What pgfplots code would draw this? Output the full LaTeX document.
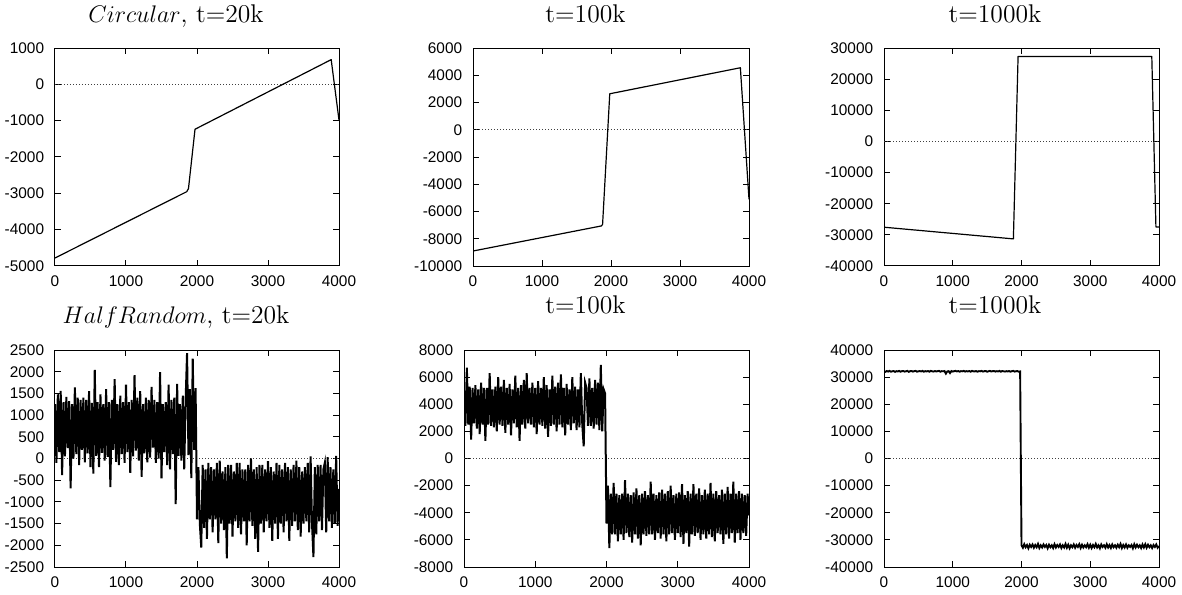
\documentclass[border=0pt]{standalone}
\usepackage{fontspec}
\usepackage{pgfplots}
\pgfplotsset{compat=1.18}
\newfontfamily\tickfont{Liberation Sans}

\pgfplotsset{
  panel/.style={
    scale only axis, anchor=north west,
    xmin=0, xmax=4000,
    xtick={0,1000,2000,3000,4000},
    xticklabels={0,1000,2000,3000,4000},
    scaled ticks=false,
    tick label style={font=\tickfont\fontsize{7.7}{8}\selectfont},
    yticklabel style={xshift=-1.9pt},
    xticklabel style={yshift=-1.5pt},
    major tick length=3pt,
    minor tick num=0,
    axis line style={line width=0.5pt},
    every tick/.style={line width=0.5pt, black},
  },
  zeroline/.style={black!75, line width=0.4pt, dash pattern=on 0.4pt off 1.1pt, forget plot},
  dataline/.style={black, line width=0.6pt, line join=round, mark=none},
  noise/.style={black, line width=1pt, line join=miter, mark=none},
}
\newcommand{\ttl}{\fontsize{12.8}{15}\selectfont}

\begin{document}
\begin{tikzpicture}
\useasboundingbox (0,0) rectangle (591pt,-297pt);

% ---- row 1: Circular ----
\begin{axis}[panel, at={(27.5pt,-24pt)}, width=142pt, height=109pt,
  ymin=-5000, ymax=1000,
  ytick={-5000,-4000,-3000,-2000,-1000,0,1000},
  yticklabels={-5000,-4000,-3000,-2000,-1000,0,1000}]
\addplot[zeroline] coordinates {(0,0) (4000,0)};
\addplot[dataline] coordinates {(0,-4780) (1855,-2955) (1880,-2870) (1972,-1236) (3890,680) (4000,-985)};
\end{axis}

\begin{axis}[panel, at={(236.5pt,-24pt)}, width=138pt, height=109pt,
  ymin=-10000, ymax=6000,
  ytick={-10000,-8000,-6000,-4000,-2000,0,2000,4000,6000},
  yticklabels={-10000,-8000,-6000,-4000,-2000,0,2000,4000,6000}]
\addplot[zeroline] coordinates {(0,0) (4000,0)};
\addplot[dataline] coordinates {(0,-8900) (1860,-7060) (1878,-6950) (1982,2640) (3875,4550) (4000,-5100)};
\end{axis}

\begin{axis}[panel, at={(442pt,-24pt)}, width=137.5pt, height=109pt,
  ymin=-40000, ymax=30000,
  ytick={-40000,-30000,-20000,-10000,0,10000,20000,30000},
  yticklabels={-40000,-30000,-20000,-10000,0,10000,20000,30000}]
\addplot[zeroline] coordinates {(0,0) (4000,0)};
\addplot[dataline] coordinates {(0,-27550) (1882,-31300) (1950,27300) (3895,27300) (3955,-27450) (4000,-27450)};
\end{axis}

% ---- row 2: HalfRandom ----
\begin{axis}[panel, at={(27.5pt,-175pt)}, width=142pt, height=108.5pt,
  ymin=-2500, ymax=2500,
  ytick={-2500,-2000,-1500,-1000,-500,0,500,1000,1500,2000,2500},
  yticklabels={-2500,-2000,-1500,-1000,-500,0,500,1000,1500,2000,2500}]
\addplot[zeroline] coordinates {(0,0) (4000,0)};
\addplot[noise] table[row sep=\\, header=false, x expr=\coordindex*20, y index=0] {
1250 \\ -100 \\ 1480 \\ 150 \\ 1560 \\ -380 \\ 1300 \\ 50 \\ 1420 \\ 240 \\
1320 \\ -690 \\ 1250 \\ 0 \\ 1640 \\ 100 \\ 1400 \\ -150 \\ 1350 \\ 200 \\
1400 \\ -90 \\ 1350 \\ 120 \\ 1550 \\ -200 \\ 1280 \\ -350 \\ 2040 \\ 60 \\
1300 \\ -200 \\ 1480 \\ 130 \\ 1250 \\ -50 \\ 1600 \\ 40 \\ 1300 \\ -660 \\
1350 \\ 200 \\ 1830 \\ -80 \\ 1250 \\ -150 \\ 1450 \\ 100 \\ 1300 \\ -100 \\
1700 \\ 150 \\ 1300 \\ -330 \\ 1350 \\ 50 \\ 1920 \\ 180 \\ 1400 \\ -50 \\
1550 \\ -420 \\ 1250 \\ 120 \\ 1400 \\ -90 \\ 1350 \\ 20 \\ 1650 \\ 250 \\
1350 \\ -100 \\ 1300 \\ 0 \\ 1990 \\ -460 \\ 1250 \\ 150 \\ 1300 \\ -150 \\
1700 \\ -250 \\ 1350 \\ 100 \\ 1400 \\ -1050 \\ 1720 \\ 60 \\ 1250 \\ -50 \\
1450 \\ -250 \\ 1350 \\ 2430 \\ 80 \\ 1600 \\ -450 \\ 2300 \\ 200 \\ 1620 \\
-1400 \\ -200 \\ -1500 \\ -2050 \\ -150 \\ -1600 \\ -250 \\ -1850 \\ -100 \\ -1400 \\
-200 \\ -1700 \\ -250 \\ -1400 \\ -100 \\ -1950 \\ -50 \\ -1500 \\ -300 \\ -1650 \\
-200 \\ -2300 \\ -150 \\ -1500 \\ -150 \\ -1800 \\ -300 \\ -1450 \\ -100 \\ -1600 \\
-100 \\ -1750 \\ -250 \\ -1450 \\ -250 \\ -2000 \\ -150 \\ -1450 \\ 0 \\ -1550 \\
-250 \\ -1850 \\ -200 \\ -2150 \\ -150 \\ -1500 \\ -150 \\ -1700 \\ -250 \\ -1450 \\
-60 \\ -1600 \\ -200 \\ -1900 \\ -300 \\ -1500 \\ -100 \\ -1850 \\ -150 \\ -1500 \\
-250 \\ -1700 \\ -100 \\ -1450 \\ -200 \\ -1900 \\ -250 \\ -1550 \\ -150 \\ -1450 \\
-50 \\ -1650 \\ -200 \\ -1800 \\ -300 \\ -1500 \\ -200 \\ -1450 \\ -100 \\ -1700 \\
50 \\ -1500 \\ -2270 \\ -200 \\ -1750 \\ -150 \\ -1450 \\ -150 \\ -1650 \\ -250 \\
-100 \\ -1700 \\ 30 \\ -1450 \\ -200 \\ -1600 \\ -250 \\ -1500 \\ 60 \\ -1550 \\
-700 \\
};
\end{axis}

\begin{axis}[panel, at={(232pt,-175pt)}, width=142.5pt, height=108.5pt,
  ymin=-8000, ymax=8000,
  ytick={-8000,-6000,-4000,-2000,0,2000,4000,6000,8000},
  yticklabels={-8000,-6000,-4000,-2000,0,2000,4000,6000,8000}]
\addplot[zeroline] coordinates {(0,0) (4000,0)};
\addplot[noise] table[row sep=\\, header=false, x expr=\coordindex*20, y index=0] {
5000 \\ 2400 \\ 6700 \\ 2500 \\ 5300 \\ 1400 \\ 5200 \\ 2600 \\ 5400 \\ 2200 \\
5100 \\ 1800 \\ 5600 \\ 2500 \\ 5200 \\ 1300 \\ 5200 \\ 2500 \\ 6300 \\ 2400 \\
5100 \\ 2300 \\ 5300 \\ 2000 \\ 6000 \\ 2500 \\ 5300 \\ 2400 \\ 5800 \\ 1900 \\
5200 \\ 2500 \\ 5500 \\ 1700 \\ 5100 \\ 2600 \\ 6100 \\ 2300 \\ 5200 \\ 1300 \\
5400 \\ 2500 \\ 5800 \\ 2200 \\ 6300 \\ 2600 \\ 5200 \\ 2500 \\ 5600 \\ 2300 \\
5200 \\ 1800 \\ 5700 \\ 2500 \\ 5200 \\ 2400 \\ 6000 \\ 2200 \\ 5400 \\ 1600 \\
5100 \\ 2400 \\ 6100 \\ 2500 \\ 5300 \\ 2000 \\ 5600 \\ 2500 \\ 6200 \\ 2300 \\
5200 \\ 1700 \\ 5500 \\ 2500 \\ 5100 \\ 2100 \\ 6000 \\ 2600 \\ 5300 \\ 2100 \\
5100 \\ 2300 \\ 6300 \\ 2500 \\ 900 \\ 5600 \\ 5200 \\ 2400 \\ 5900 \\ 2400 \\
5200 \\ 2200 \\ 5800 \\ 2500 \\ 5600 \\ 2100 \\ 6900 \\ 2000 \\ 5100 \\ 4800 \\
-4800 \\ -2000 \\ -6600 \\ -2600 \\ -5600 \\ -1800 \\ -5600 \\ -2600 \\ -6100 \\ -2700 \\
-5600 \\ -2600 \\ -6000 \\ -1600 \\ -5500 \\ -2600 \\ -5800 \\ -2700 \\ -6200 \\ -2500 \\
-5600 \\ -2200 \\ -5900 \\ -2700 \\ -6400 \\ -2600 \\ -5600 \\ -2400 \\ -5700 \\ -2700 \\
-5600 \\ -1700 \\ -5600 \\ -2600 \\ -6000 \\ -2700 \\ -5500 \\ -2500 \\ -5900 \\ -2300 \\
-5600 \\ -2600 \\ -6100 \\ -2400 \\ -5600 \\ -2000 \\ -5500 \\ -2700 \\ -6000 \\ -2600 \\
-5500 \\ -2500 \\ -5800 \\ -1900 \\ -6300 \\ -2700 \\ -5500 \\ -2400 \\ -6500 \\ -2600 \\
-5600 \\ -1900 \\ -5700 \\ -2600 \\ -5500 \\ -2200 \\ -6000 \\ -2700 \\ -5600 \\ -2300 \\
-5900 \\ -2600 \\ -5600 \\ -1800 \\ -5800 \\ -2600 \\ -6100 \\ -2400 \\ -5500 \\ -2700 \\
-5600 \\ -2300 \\ -6300 \\ -2600 \\ -5600 \\ -2100 \\ -5900 \\ -2600 \\ -5500 \\ -1700 \\
-6200 \\ -2600 \\ -5500 \\ -2400 \\ -6000 \\ -2600 \\ -5500 \\ -2700 \\ -5700 \\ -2600 \\
-4200 \\
};
\end{axis}

\begin{axis}[panel, at={(442pt,-175pt)}, width=137.5pt, height=108.5pt,
  ymin=-40000, ymax=40000,
  ytick={-40000,-30000,-20000,-10000,0,10000,20000,30000,40000},
  yticklabels={-40000,-30000,-20000,-10000,0,10000,20000,30000,40000}]
\addplot[zeroline] coordinates {(0,0) (4000,0)};
\addplot[noise, line width=0.95pt] table[row sep=\\, header=false, x expr=\coordindex*20, y index=0] {
32200 \\ 31950 \\ 32250 \\ 32050 \\ 32300 \\ 32000 \\ 32150 \\ 32250 \\ 31950 \\ 32200 \\
32100 \\ 32300 \\ 32000 \\ 32200 \\ 32250 \\ 32050 \\ 32150 \\ 32300 \\ 31950 \\ 32200 \\
32250 \\ 32050 \\ 32200 \\ 32300 \\ 32000 \\ 32150 \\ 32250 \\ 32100 \\ 32300 \\ 32000 \\
32200 \\ 32100 \\ 32250 \\ 32000 \\ 32300 \\ 32150 \\ 32050 \\ 32250 \\ 32100 \\ 32200 \\
32300 \\ 32000 \\ 32200 \\ 32150 \\ 32250 \\ 31300 \\ 32100 \\ 32200 \\ 31500 \\ 32250 \\
32050 \\ 32200 \\ 32300 \\ 32100 \\ 32250 \\ 32000 \\ 32200 \\ 32150 \\ 32300 \\ 32050 \\
32200 \\ 32100 \\ 32250 \\ 32000 \\ 32300 \\ 32150 \\ 32100 \\ 32250 \\ 32000 \\ 32200 \\
32150 \\ 32300 \\ 32050 \\ 32200 \\ 32250 \\ 32000 \\ 32150 \\ 32300 \\ 32100 \\ 32200 \\
32250 \\ 32050 \\ 32200 \\ 32100 \\ 32300 \\ 32000 \\ 32250 \\ 32150 \\ 32050 \\ 32200 \\
32100 \\ 32250 \\ 32000 \\ 32200 \\ 32300 \\ 32050 \\ 32150 \\ 32250 \\ 32000 \\ 32100 \\
-32000 \\ -32900 \\ -31600 \\ -32700 \\ -31900 \\ -33100 \\ -31800 \\ -32600 \\ -31700 \\ -32900 \\
-31900 \\ -32700 \\ -31500 \\ -33000 \\ -32000 \\ -32800 \\ -31700 \\ -32600 \\ -31900 \\ -33100 \\
-31800 \\ -32700 \\ -32000 \\ -33000 \\ -31600 \\ -32800 \\ -31900 \\ -32600 \\ -31700 \\ -33000 \\
-32000 \\ -32800 \\ -31500 \\ -32900 \\ -31800 \\ -33100 \\ -32000 \\ -32700 \\ -31700 \\ -32900 \\
-31900 \\ -32600 \\ -31600 \\ -33000 \\ -31800 \\ -32800 \\ -32000 \\ -32700 \\ -31600 \\ -32900 \\
-31800 \\ -33000 \\ -31900 \\ -32700 \\ -31500 \\ -32800 \\ -32000 \\ -33100 \\ -31700 \\ -32600 \\
-32000 \\ -32900 \\ -31600 \\ -32800 \\ -31900 \\ -33000 \\ -31700 \\ -32700 \\ -32000 \\ -32900 \\
-31800 \\ -32700 \\ -31500 \\ -33000 \\ -31900 \\ -32800 \\ -31700 \\ -32900 \\ -32000 \\ -32600 \\
-31900 \\ -33100 \\ -31600 \\ -32800 \\ -31800 \\ -32700 \\ -32000 \\ -33000 \\ -31700 \\ -32800 \\
-31600 \\ -32900 \\ -31800 \\ -32700 \\ -32000 \\ -33000 \\ -31900 \\ -32600 \\ -31700 \\ -32900 \\
-32300 \\
};
\end{axis}

% ---- titles ----
\node[anchor=base, font=\ttl] at (88pt,-11.35pt) {$Circular$, t=20k};
\node[anchor=base, font=\ttl] at (292.75pt,-11.35pt) {t=100k};
\node[anchor=base, font=\ttl] at (497.5pt,-11.35pt) {t=1000k};
\node[anchor=base, font=\ttl] at (88pt,-161.5pt) {$HalfRandom$, t=20k};
\node[anchor=base, font=\ttl] at (292.75pt,-156.5pt) {t=100k};
\node[anchor=base, font=\ttl] at (497.5pt,-156.5pt) {t=1000k};
\end{tikzpicture}
\end{document}
